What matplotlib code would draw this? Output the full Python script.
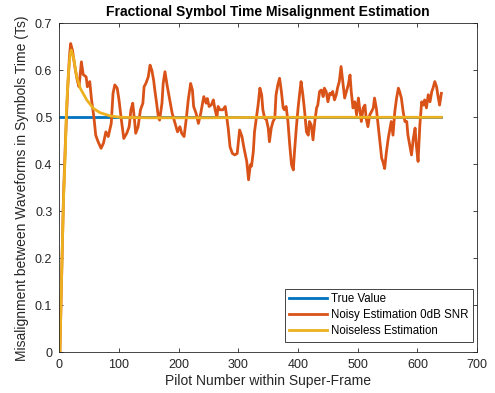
import numpy as np
import matplotlib
matplotlib.use("Agg")
import matplotlib.pyplot as plt

plt.rcParams['font.family'] = ['Liberation Sans', 'DejaVu Sans']

# true value
true_x = [1, 640]
true_y = [0.5, 0.5]

# noisy estimation (0 dB SNR)
noisy_x = [1, 4, 7, 10, 14, 17, 19, 22, 26, 30, 33, 37, 40, 45, 47, 51, 54, 58, 61, 65,
           70, 74, 78, 82, 87, 90, 93, 97, 100, 104, 108, 113, 117, 120, 123, 126, 128, 132, 136, 140,
           142, 145, 149, 152, 155, 158, 160, 163, 166, 168, 172, 174, 177, 181, 185, 189, 194, 198, 202, 205,
           209, 213, 216, 220, 223, 225, 229, 233, 237, 240, 242, 246, 248, 251, 255, 258, 261, 264, 266, 269,
           274, 278, 280, 283, 286, 290, 294, 298, 302, 306, 309, 314, 317, 320, 322, 325, 327, 330, 333, 336,
           339, 341, 344, 347, 350, 352, 355, 358, 361, 363, 366, 369, 372, 375, 377, 380, 383, 386, 389, 392,
           394, 397, 400, 403, 405, 408, 411, 414, 417, 419, 422, 425, 428, 431, 433, 436, 439, 442, 444, 447,
           450, 453, 455, 458, 461, 464, 466, 469, 472, 475, 478, 481, 484, 487, 489, 492, 495, 498, 501, 503,
           506, 509, 512, 514, 517, 520, 523, 526, 528, 531, 534, 537, 540, 542, 545, 548, 551, 554, 556, 559,
           562, 565, 568, 570, 573, 576, 579, 582, 584, 587, 590, 593, 596, 598, 601, 604, 607, 610, 612, 615,
           618, 621, 624, 626, 629, 632, 634, 637, 640]
noisy_y = [0.0, 0.17, 0.33, 0.44, 0.56, 0.63, 0.657, 0.643, 0.608, 0.579, 0.565, 0.618, 0.591, 0.586, 0.565, 0.576, 0.537, 0.5, 0.462, 0.448,
           0.434, 0.445, 0.469, 0.459, 0.487, 0.551, 0.569, 0.562, 0.537, 0.494, 0.455, 0.466, 0.48, 0.516, 0.53, 0.494, 0.466, 0.48, 0.516, 0.53,
           0.565, 0.572, 0.586, 0.611, 0.6, 0.579, 0.558, 0.53, 0.5, 0.494, 0.53, 0.572, 0.597, 0.565, 0.537, 0.509, 0.487, 0.469, 0.48, 0.466,
           0.459, 0.5, 0.537, 0.572, 0.558, 0.523, 0.509, 0.487, 0.509, 0.53, 0.544, 0.53, 0.54, 0.523, 0.527, 0.537, 0.516, 0.5, 0.523, 0.516,
           0.516, 0.523, 0.505, 0.476, 0.437, 0.423, 0.42, 0.423, 0.473, 0.459, 0.437, 0.406, 0.367, 0.399, 0.396, 0.427, 0.469, 0.498, 0.526, 0.562,
           0.548, 0.516, 0.498, 0.495, 0.477, 0.448, 0.477, 0.491, 0.498, 0.547, 0.569, 0.583, 0.555, 0.52, 0.516, 0.523, 0.491, 0.441, 0.399, 0.388,
           0.427, 0.477, 0.52, 0.555, 0.576, 0.548, 0.512, 0.469, 0.462, 0.491, 0.484, 0.452, 0.491, 0.52, 0.526, 0.555, 0.558, 0.544, 0.562, 0.555,
           0.533, 0.551, 0.548, 0.555, 0.537, 0.548, 0.562, 0.576, 0.608, 0.575, 0.541, 0.555, 0.569, 0.59, 0.555, 0.52, 0.533, 0.505, 0.541, 0.52,
           0.491, 0.52, 0.526, 0.498, 0.48, 0.505, 0.512, 0.52, 0.541, 0.52, 0.484, 0.448, 0.413, 0.406, 0.391, 0.427, 0.455, 0.477, 0.491, 0.462,
           0.512, 0.541, 0.562, 0.555, 0.541, 0.512, 0.491, 0.491, 0.462, 0.441, 0.42, 0.455, 0.477, 0.441, 0.406, 0.484, 0.533, 0.526, 0.537, 0.52,
           0.548, 0.533, 0.555, 0.562, 0.576, 0.565, 0.548, 0.526, 0.551]

# noiseless estimation
clean_x = [1, 4, 7, 10, 12, 15, 18, 20, 24, 29, 35, 46, 57, 68, 85, 102, 150, 250, 350, 640]
clean_y = [0.0, 0.17, 0.324, 0.424, 0.516, 0.587, 0.633, 0.643, 0.626, 0.587, 0.562, 0.537, 0.519, 0.51, 0.503, 0.5, 0.499, 0.499, 0.5, 0.5]

assert len(noisy_x) == len(noisy_y)

fig = plt.figure(figsize=(4.95, 3.93), dpi=100)
ax = fig.add_axes([0.1198, 0.1036, 0.964 - 0.1198, 0.9407 - 0.1036])

ax.plot(true_x, true_y, color='#0072BD', lw=2, label='True Value')
ax.plot(noisy_x, noisy_y, color='#D95319', lw=2, label='Noisy Estimation 0dB SNR')
ax.plot(clean_x, clean_y, color='#EDB120', lw=2, label='Noiseless Estimation')

ax.set_xlim(0, 700)
ax.set_ylim(0, 0.7)
ax.set_xticks(np.arange(0, 701, 100))
ax.set_yticks(np.arange(0, 0.71, 0.1))
ax.set_yticklabels(['0', '0.1', '0.2', '0.3', '0.4', '0.5', '0.6', '0.7'])
ax.tick_params(direction='in', top=True, right=True, length=3, width=0.6,
               colors='#262626', labelsize=9, labelcolor='#262626', pad=5)
for s in ax.spines.values():
    s.set_color('#262626')
    s.set_linewidth(0.6)

ax.set_title('Fractional Symbol Time Misalignment Estimation', fontsize=10,
             fontweight='bold', pad=5)
ax.set_xlabel('Pilot Number within Super-Frame', fontsize=10, color='#262626', labelpad=2)
ax.set_ylabel('Misalignment between Waveforms in Symbols Time (Ts)', fontsize=10,
              color='#262626', labelpad=4)

leg = ax.legend(loc='lower right', bbox_to_anchor=(0.99, 0.031), borderaxespad=0,
                fontsize=8.3, fancybox=False, framealpha=1, edgecolor='#262626',
                handlelength=3.3, labelspacing=0.35, handletextpad=0.3, borderpad=0.4)
leg.get_frame().set_linewidth(0.6)

fig.savefig('out.png', dpi=100)
